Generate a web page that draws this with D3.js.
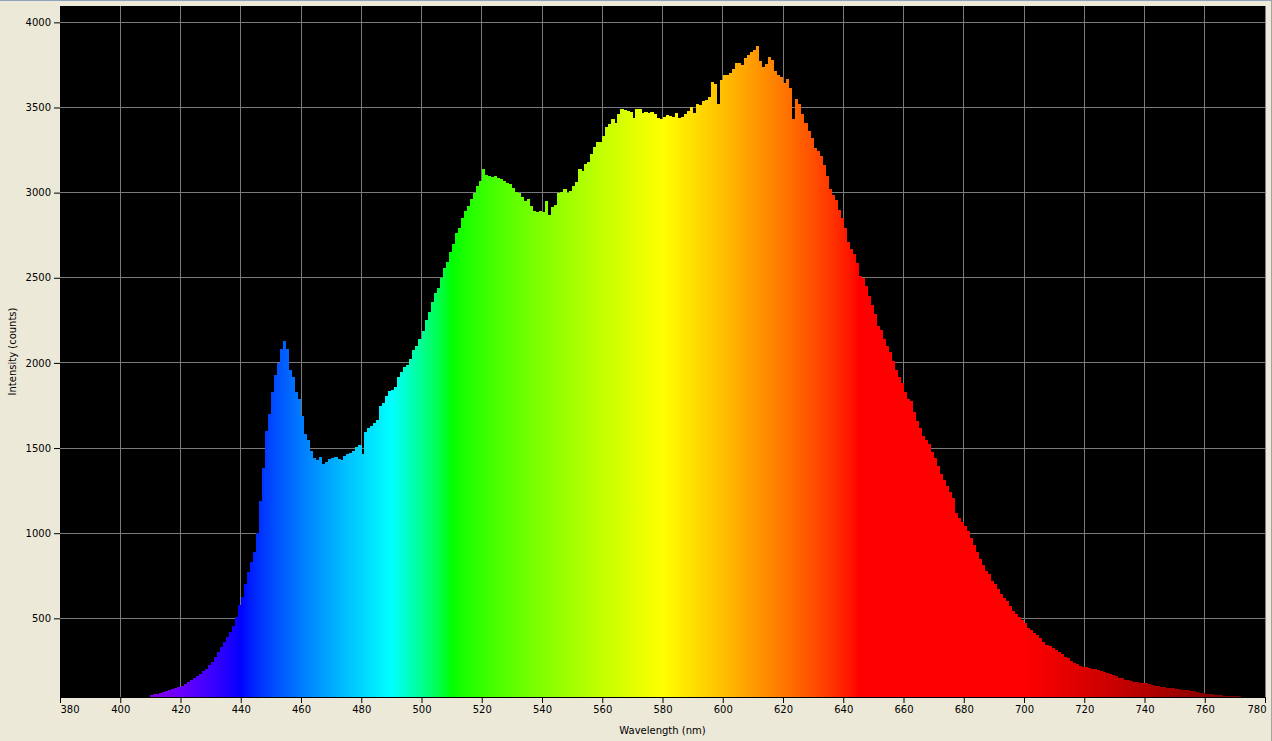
<!DOCTYPE html>
<html><head><meta charset="utf-8">
<script src="https://cdn.jsdelivr.net/npm/d3@7"></script>
<style>html,body{margin:0;padding:0;background:#ECE9D8;overflow:hidden}</style>
</head><body><svg id="c" width="1272" height="741"></svg>
<script>
// Spectrum readings, 1 nm per value, starting at 410 nm
const wlStart = 410;
const intensity = [
 50,55,58,63,68,73,80,86,92,99,
 105,115,128,140,150,162,175,190,205,225,
 245,275,305,330,360,390,420,455,510,580,
 625,700,770,830,890,1000,1190,1380,1600,1700,
 1830,1930,2000,2080,2130,2080,1960,1920,1830,1790,
 1690,1580,1545,1480,1440,1430,1445,1405,1420,1435,
 1440,1445,1438,1432,1455,1465,1472,1485,1505,1515,
 1465,1595,1615,1630,1650,1665,1745,1765,1805,1835,
 1840,1860,1915,1945,1975,1990,2025,2075,2100,2140,
 2190,2250,2300,2360,2410,2440,2500,2560,2595,2650,
 2700,2760,2795,2850,2890,2920,2960,3000,3040,3070,
 3140,3105,3095,3090,3095,3085,3082,3068,3058,3048,
 3030,3005,3000,2975,2950,2965,2920,2890,2885,2895,
 2885,2950,2870,2915,2925,2995,3005,3020,3000,3010,
 3040,3065,3140,3125,3170,3182,3225,3270,3300,3300,
 3330,3385,3405,3430,3410,3460,3490,3488,3480,3475,
 3440,3492,3490,3468,3475,3465,3472,3460,3440,3430,
 3445,3455,3448,3445,3465,3440,3445,3460,3480,3500,
 3470,3520,3512,3540,3545,3560,3650,3640,3520,3660,
 3690,3690,3700,3725,3760,3762,3752,3790,3810,3825,
 3835,3862,3775,3735,3755,3795,3780,3712,3690,3680,
 3645,3665,3612,3430,3548,3520,3460,3410,3360,3320,
 3265,3245,3215,3160,3100,3020,2985,2955,2900,2850,
 2790,2710,2670,2640,2585,2510,2500,2450,2395,2340,
 2290,2215,2195,2140,2100,2065,2010,1960,1915,1880,
 1830,1790,1775,1710,1660,1620,1570,1550,1525,1475,
 1440,1395,1350,1310,1275,1240,1205,1120,1090,1068,
 1040,1015,970,930,890,850,815,780,760,720,
 700,670,645,620,600,570,545,525,505,490,
 470,445,430,415,400,385,360,345,335,325,
 315,300,290,275,265,250,240,230,220,216,
 215,210,205,200,195,190,185,180,172,165,
 160,152,147,140,135,132,128,126,122,120,
 118,112,108,104,100,98,95,92,90,88,
 85,84,82,80,78,75,72,68,64,60,
 55,53,53,50,48,48,46,45,45,44,
 43,42
];
const xTicks = [380,400,420,440,460,480,500,520,540,560,580,600,620,640,660,680,700,720,740,760,780];
const yTicks = [500,1000,1500,2000,2500,3000,3500,4000];
const xDomain = [380, 780];
const yDomain = [38, 4096];
const xTitle = "Wavelength (nm)";
const yTitle = "Intensity (counts)";

const data = intensity.map((v, i) => ({w: wlStart + i, v}));

const svg = d3.select("#c");
const L = 60, R = 1265, T = 6, B = 697;
const x = d3.scaleLinear().domain(xDomain).range([L, R]);
const y = d3.scaleLinear().domain(yDomain).range([B, T]);
const font = "'DejaVu Sans', Verdana, sans-serif";

// window frame
svg.append("rect").attr("x",0).attr("y",0).attr("width",1272).attr("height",741).attr("fill","#ECE9D8");
svg.append("line").attr("x1",0).attr("x2",1272).attr("y1",0.5).attr("y2",0.5).attr("stroke","#8DA2BD").attr("stroke-width",1);
svg.append("line").attr("x1",1271.5).attr("x2",1271.5).attr("y1",0).attr("y2",741).attr("stroke","#A7A69C").attr("stroke-width",1);

// wavelength -> RGB (spectral colour)
function specColor(w) {
  let r=0,g=0,b=0;
  if (w < 440) { r = -(w-440)/60; b = 1; }
  else if (w < 490) { g = (w-440)/50; b = 1; }
  else if (w < 510) { g = 1; b = -(w-510)/20; }
  else if (w < 580) { r = (w-510)/70; g = 1; }
  else if (w < 645) { r = 1; g = -(w-645)/65; }
  else { r = 1; }
  let f = 1;
  if (w < 420) f = 0.3 + 0.7*(w-380)/40;
  else if (w > 700) f = 0.3 + 0.7*(780-w)/80;
  const c = v => v <= 0 ? 0 : Math.round(255*Math.pow(v*f, 0.8));
  return `rgb(${c(r)},${c(g)},${c(b)})`;
}
const defs = svg.append("defs");
const grad = defs.append("linearGradient").attr("id","spec")
  .attr("gradientUnits","userSpaceOnUse")
  .attr("x1", x(xDomain[0])).attr("x2", x(xDomain[1])).attr("y1",0).attr("y2",0);
d3.range(xDomain[0], xDomain[1]+1, 1).forEach(w => {
  grad.append("stop").attr("offset", (w-xDomain[0])/(xDomain[1]-xDomain[0])).attr("stop-color", specColor(w));
});

// plot background
svg.append("rect").attr("x",L).attr("y",T).attr("width",R-L).attr("height",B-T).attr("fill","#000");

// grid
const grid = svg.append("g").attr("stroke","#7a7a7a").attr("stroke-width",1).attr("shape-rendering","crispEdges");
grid.selectAll(".gx").data(xTicks.filter(t => t > xDomain[0] && t < xDomain[1])).join("line")
  .attr("x1", d => x(d)).attr("x2", d => x(d)).attr("y1", T).attr("y2", B);
grid.selectAll(".gy").data(yTicks).join("line")
  .attr("x1", L).attr("x2", R).attr("y1", d => y(d)).attr("y2", d => y(d));

// spectrum bars
svg.append("g").attr("shape-rendering","crispEdges").selectAll("rect").data(data).join("rect")
  .attr("x", d => x(d.w))
  .attr("width", d => x(d.w+1) - x(d.w) + 0.4)
  .attr("y", d => y(d.v))
  .attr("height", d => B - y(d.v))
  .attr("fill", "url(#spec)");

// right border of plot
svg.append("line").attr("x1",R+0.5).attr("x2",R+0.5).attr("y1",T).attr("y2",B).attr("stroke","#808080");

// axes
const xAxis = svg.append("g").attr("transform", `translate(0,${B})`)
  .call(d3.axisBottom(x).tickValues(xTicks).tickSize(6).tickPadding(3).tickFormat(d3.format("d")));
const yAxis = svg.append("g").attr("transform", `translate(${L},0)`)
  .call(d3.axisLeft(y).tickValues(yTicks).tickSize(6).tickPadding(3).tickFormat(d3.format("d")));
[xAxis, yAxis].forEach(g => {
  g.select(".domain").attr("stroke","#000");
  g.selectAll(".tick line").attr("stroke","#000");
  g.selectAll("text").attr("fill","#000").style("font-family", font).style("font-size","10px");
});
yAxis.select(".domain").remove();
// first and last x labels kept inside the frame
xAxis.selectAll(".tick text")
  .attr("text-anchor", d => d === xDomain[0] ? "start" : d === xDomain[1] ? "end" : "middle")
  .attr("dx", d => d === xDomain[1] ? 1 : 0);

svg.append("text").attr("x", (L+R)/2).attr("y", 734).attr("text-anchor","middle")
  .style("font-family", font).style("font-size","10px").attr("fill","#000").text(xTitle);
svg.append("text").attr("transform", `translate(16,${(T+B)/2}) rotate(-90)`).attr("text-anchor","middle")
  .style("font-family", font).style("font-size","10px").attr("fill","#000").text(yTitle);
</script></body></html>
